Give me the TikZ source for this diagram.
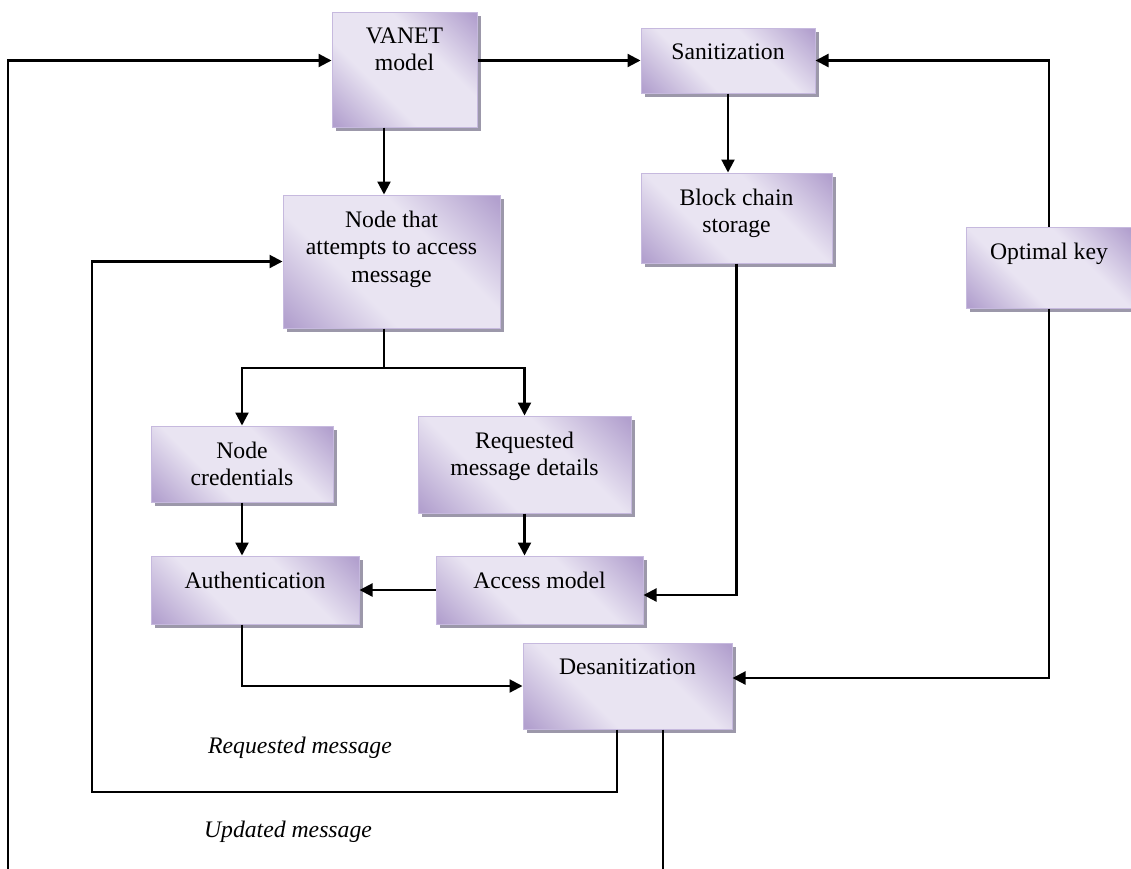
\documentclass[tikz,border=0pt]{standalone}
\usepackage{fontspec}
\setmainfont{Liberation Serif}
\usetikzlibrary{arrows.meta,shadows}
\definecolor{lavclair}{RGB}{233,228,242}
\definecolor{lavfonce}{RGB}{178,160,206}
\definecolor{lavbord}{RGB}{198,185,222}
\definecolor{ombre}{RGB}{156,152,170}
\pgfdeclarehorizontalshading{lavande}{100bp}{color(0bp)=(lavfonce); color(16bp)=(lavfonce); color(38bp)=(lavclair); color(62bp)=(lavclair); color(84bp)=(lavfonce); color(100bp)=(lavfonce)}
\begin{document}
\begin{tikzpicture}[x=1pt,y=-1pt]
% Styles
\tikzstyle{boite}=[rectangle, draw=lavbord, line width=1pt, shading=lavande, shading angle=45, drop shadow={shadow xshift=4pt, shadow yshift=-4pt, fill=ombre, opacity=1}]
\tikzstyle{titre}=[anchor=north, yshift=-16pt, inner sep=0pt, align=center, font=\fontsize{23.7}{27.5}\selectfont]
\tikzstyle{legende}=[font=\fontsize{23.7}{27.5}\selectfont\itshape]
\tikzstyle{fleche}=[-{Triangle[length=13pt,width=13pt]}, line width=2.2pt]
\tikzstyle{trait}=[line width=2.2pt]
% Cadre
\useasboundingbox (0,0) rectangle (1131,868);
\clip (0,0) rectangle (1131,868);
% Boites
\node[boite, minimum width=145pt, minimum height=115pt, label={[titre]north:VANET\\model}] (vanet) at (404.5,69.5) {};
\node[boite, minimum width=174pt, minimum height=65pt, label={[titre]north:Sanitization}] (sanit) at (728,60.5) {};
\node[boite, minimum width=191pt, minimum height=90pt, label={[titre]north:Block chain\\storage}] (chaine) at (736.5,218) {};
\node[boite, minimum width=166pt, minimum height=81pt, label={[titre]north:Optimal key}] (cle) at (1049,267.5) {};
\node[boite, minimum width=217pt, minimum height=133pt, label={[titre]north:Node that\\attempts to access\\message}] (noeud) at (391.5,261.5) {};
\node[boite, minimum width=182pt, minimum height=76pt, label={[titre]north:Node\\credentials}] (ident) at (242,464) {};
\node[boite, minimum width=213pt, minimum height=97pt, label={[titre]north:Requested\\message details}] (details) at (524.5,464.5) {};
\node[boite, minimum width=208pt, minimum height=68pt, label={[titre]north:Authentication}] (auth) at (255,590) {};
\node[boite, minimum width=207pt, minimum height=68pt, label={[titre]north:Access model}] (acces) at (539.5,590) {};
\node[boite, minimum width=209pt, minimum height=86pt, label={[titre]north:Desanitization}] (desan) at (627.5,686) {};
% Legendes
\node[legende] (req) at (300,748) {Requested message};
\node[legende] (maj) at (288,832) {Updated message};
% Points de passage
\coordinate (axe) at (384,0);
\coordinate (embr) at (384,368);
\coordinate (reqbas) at (617,792);
\coordinate (reqgauche) at (92,792);
\coordinate (majbas) at (663,885);
\coordinate (majgauche) at (8,885);
% Fleches
\draw[fleche] (vanet.east |- sanit.west) -- (sanit.west);
\draw[fleche] (sanit.south) -- (sanit.south |- chaine.north);
\draw[fleche] (cle.north) |- (sanit.east);
\draw[fleche] (cle.south) |- ([yshift=8pt]desan.east);
\draw[fleche] (vanet.south -| axe) -- (noeud.north -| axe);
\draw[trait] (noeud.south -| embr) -- (embr);
\draw[fleche] (embr) -| (ident.north);
\draw[fleche] (embr) -| (details.north);
\draw[fleche] (ident.south) -- (ident.south |- auth.north);
\draw[fleche] (details.south) -- (details.south |- acces.north);
\draw[fleche] (acces.west) -- (auth.east);
\draw[fleche] (chaine.south) |- ([yshift=-5pt]acces.east);
\draw[fleche] (auth.south -| ident.south) |- (desan.west);
% Retours
\draw[fleche] (desan.south -| reqbas) -- (reqbas) -- (reqgauche) |- (noeud.west);
\draw[fleche] (desan.south -| majbas) -- (majbas) -- (majgauche) |- (vanet.west |- sanit.west);
\end{tikzpicture}
\end{document}
